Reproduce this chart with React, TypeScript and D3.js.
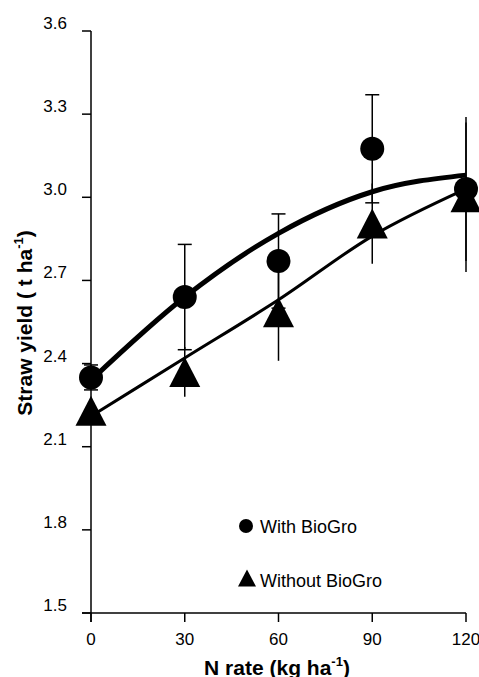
import React from "react";
import * as d3 from "d3";

const nRates = [0, 30, 60, 90, 120];
const withBioGro = [2.35, 2.64, 2.77, 3.175, 3.03];
const withErr = [0.045, 0.19, 0.17, 0.195, 0.26];
const withoutBioGro = [2.23, 2.37, 2.585, 2.905, 3.0];
const withoutErr = [0.02, 0.09, 0.175, 0.145, 0.27];
const withFit = [2.34, 2.64, 2.87, 3.02, 3.08];
const withoutFit = [2.21, 2.42, 2.63, 2.86, 3.03];
const yTicks = [1.5, 1.8, 2.1, 2.4, 2.7, 3.0, 3.3, 3.6];
const xTicks = [0, 30, 60, 90, 120];

const W = 479;
const H = 677;
const FONT = "'Liberation Sans', Arial, sans-serif";

export default function App() {
  const x = d3.scaleLinear().domain([0, 120]).range([91, 466]);
  const y = d3.scaleLinear().domain([1.5, 3.6]).range([613, 31]);
  const line = d3
    .line<number>()
    .x((_, i) => x(nRates[i]))
    .y((d) => y(d))
    .curve(d3.curveMonotoneX);

  const tri = (cx: number, cy: number, hw: number, hh: number) =>
    `M${cx},${cy - hh}L${cx + hw},${cy + hh}L${cx - hw},${cy + hh}Z`;

  return (
    <svg
      width={W}
      height={H}
      style={{ position: "absolute", left: 0, top: 0, background: "#fff" }}
      fontFamily={FONT}
    >
      {/* axes */}
      <line x1={x(0)} x2={x(0)} y1={y(3.6)} y2={y(1.5) + 9} stroke="#000" strokeWidth={1.5} />
      <line x1={x(0) - 9} x2={x(120)} y1={y(1.5)} y2={y(1.5)} stroke="#000" strokeWidth={1.5} />
      {yTicks.map((t) => (
        <g key={"y" + t}>
          <line x1={x(0) - 9} x2={x(0)} y1={y(t)} y2={y(t)} stroke="#000" strokeWidth={1.5} />
          <text x={67} y={y(t) - 8} dy="0.35em" textAnchor="end" fontSize={17} fill="#000">
            {t.toFixed(1)}
          </text>
        </g>
      ))}
      {xTicks.map((t) => (
        <g key={"x" + t}>
          <line x1={x(t)} x2={x(t)} y1={y(1.5)} y2={y(1.5) + 9} stroke="#000" strokeWidth={1.5} />
          <text x={x(t)} y={645} textAnchor="middle" fontSize={17} fill="#000">
            {t}
          </text>
        </g>
      ))}
      <text
        transform={`translate(32,323) rotate(-90)`}
        textAnchor="middle"
        fontSize={21}
        fontWeight="bold"
        fill="#000"
      >
        Straw yield ( t ha
        <tspan dy={-9} fontSize={13}>-1</tspan>
        <tspan dy={9}>)</tspan>
      </text>
      <text x={277} y={675} textAnchor="middle" fontSize={21} fontWeight="bold" fill="#000">
        N rate (kg ha
        <tspan dy={-9} fontSize={13}>-1</tspan>
        <tspan dy={9}>)</tspan>
      </text>

      {/* fitted curves */}
      <path d={line(withFit) || ""} fill="none" stroke="#000" strokeWidth={5} />
      <path d={line(withoutFit) || ""} fill="none" stroke="#000" strokeWidth={3} />

      {/* error bars */}
      {nRates.map((n, i) => (
        <g key={"ew" + n}>
          <line
            x1={x(n)}
            x2={x(n)}
            y1={y(withBioGro[i] + withErr[i])}
            y2={y(withBioGro[i] - withErr[i])}
            stroke="#000"
            strokeWidth={1.5}
          />
          {n < 120 && (
            <>
              <line x1={x(n) - 7} x2={x(n) + 7} y1={y(withBioGro[i] + withErr[i])} y2={y(withBioGro[i] + withErr[i])} stroke="#000" strokeWidth={1.5} />
              <line x1={x(n) - 7} x2={x(n) + 7} y1={y(withBioGro[i] - withErr[i])} y2={y(withBioGro[i] - withErr[i])} stroke="#000" strokeWidth={1.5} />
            </>
          )}
          <line
            x1={x(n)}
            x2={x(n)}
            y1={y(withoutBioGro[i] + withoutErr[i])}
            y2={y(withoutBioGro[i] - withoutErr[i])}
            stroke="#000"
            strokeWidth={1.5}
          />
        </g>
      ))}

      {/* markers */}
      {nRates.map((n, i) => (
        <path key={"t" + n} d={tri(x(n), y(withoutBioGro[i]), 15.5, 15)} fill="#000" />
      ))}
      {nRates.map((n, i) => (
        <circle key={"c" + n} cx={x(n)} cy={y(withBioGro[i])} r={12} fill="#000" />
      ))}

      {/* legend */}
      <circle cx={246} cy={526} r={7} fill="#000" />
      <text x={260} y={533} fontSize={18} fill="#000">With BioGro</text>
      <path d={tri(247, 578, 9, 8.5)} fill="#000" />
      <text x={260} y={587} fontSize={18} fill="#000">Without BioGro</text>
    </svg>
  );
}
